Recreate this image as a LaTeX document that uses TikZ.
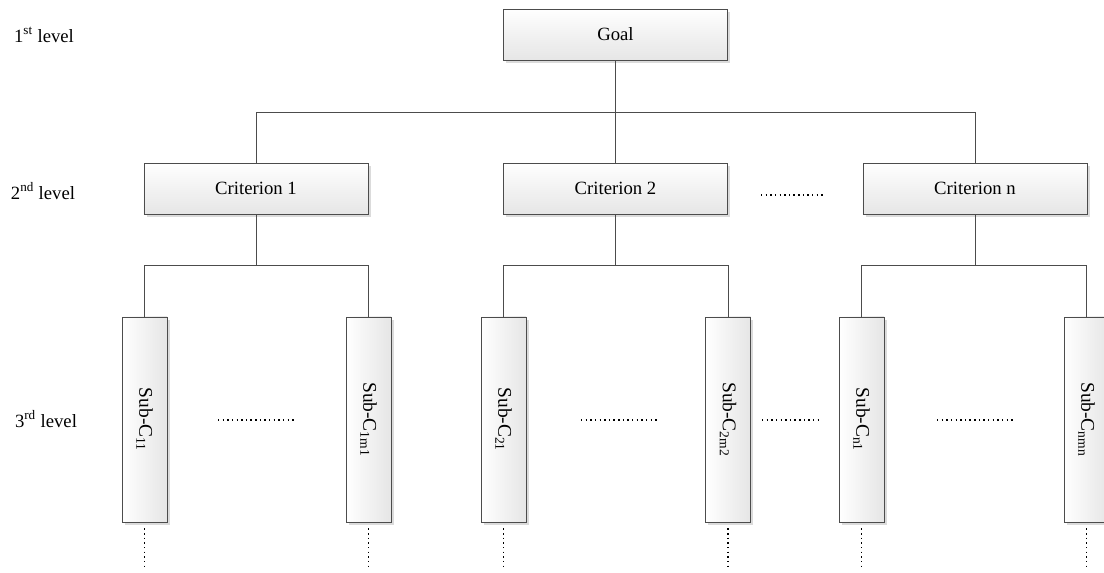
\documentclass[tikz,border=0pt]{standalone}
\usepackage{fontspec}
\setmainfont{Liberation Serif}
\usetikzlibrary{shadows}

\begin{document}
\begin{tikzpicture}[
  x=0.025cm, y=-0.025cm,
  font=\fontsize{13.3}{16}\selectfont,
  crit/.style={draw=black!70,line width=0.6pt,top color=white,bottom color=black!10,
    minimum width=5.6cm,minimum height=1.275cm,inner sep=0pt,
    drop shadow={shadow xshift=0.07cm,shadow yshift=-0.07cm,fill=black!14,opacity=1}},
  sub/.style={crit,left color=white,right color=black!10,minimum width=1.125cm,minimum height=5.125cm,
    font=\fontsize{13.8}{16}\selectfont},
  link/.style={draw=black!70,line width=0.6pt},
  dotline/.style={line width=1.2pt,dash pattern=on 1pt off 2.3pt},
]
\useasboundingbox (0,0) rectangle (1104,572);

% level labels
\node (lvl1) at (44,35) {1\textsuperscript{st} level};
\node (lvl2) at (43,191) {2\textsuperscript{nd} level};
\node (lvl3) at (46,419) {3\textsuperscript{rd} level};

% ---- 1st level: goal ----
\node[crit] (goal) at (615.5,34.5) {Goal};

% ---- 2nd level: criteria ----
\foreach \x/\n/\t in {256/1/Criterion 1, 615.5/2/Criterion 2, 975/n/Criterion n}
  \node[crit] (c\n) at (\x,188.5) {\t};
\draw[link] (goal) -- (c2);
\draw[link] (goal.south) -- ++(0,52) -| (c1.north);
\draw[link] (goal.south) -- ++(0,52) -| (cn.north);
\draw[dotline] (761,195) -- (824,195);

% ---- 3rd level: sub-criteria ----
\foreach \n/\xa/\xb/\a/\b in {1/144.5/368.5/11/1m1, 2/503.5/728/21/2m2, n/861.5/1086.5/n1/nmn}{
  \node[sub] (s\n a) at (\xa,419.5) {\rotatebox{-90}{Sub-C\textsubscript{\a}}};
  \node[sub] (s\n b) at (\xb,419.5) {\rotatebox{-90}{Sub-C\textsubscript{\b}}};
  \draw[link] (c\n.south) -- ++(0,51) -| (s\n a.north);
  \draw[link] (c\n.south) -- ++(0,51) -| (s\n b.north);
  \draw[dotline] ([yshift=-0.15cm]s\n a.south) -- ++(0,40);
  \draw[dotline] ([yshift=-0.15cm]s\n b.south) -- ++(0,40);
}
\foreach \x/\w in {257/39, 620/39, 792/30, 976/39}
  \draw[dotline] (\x-\w,420) -- (\x+\w,420);
\end{tikzpicture}
\end{document}
